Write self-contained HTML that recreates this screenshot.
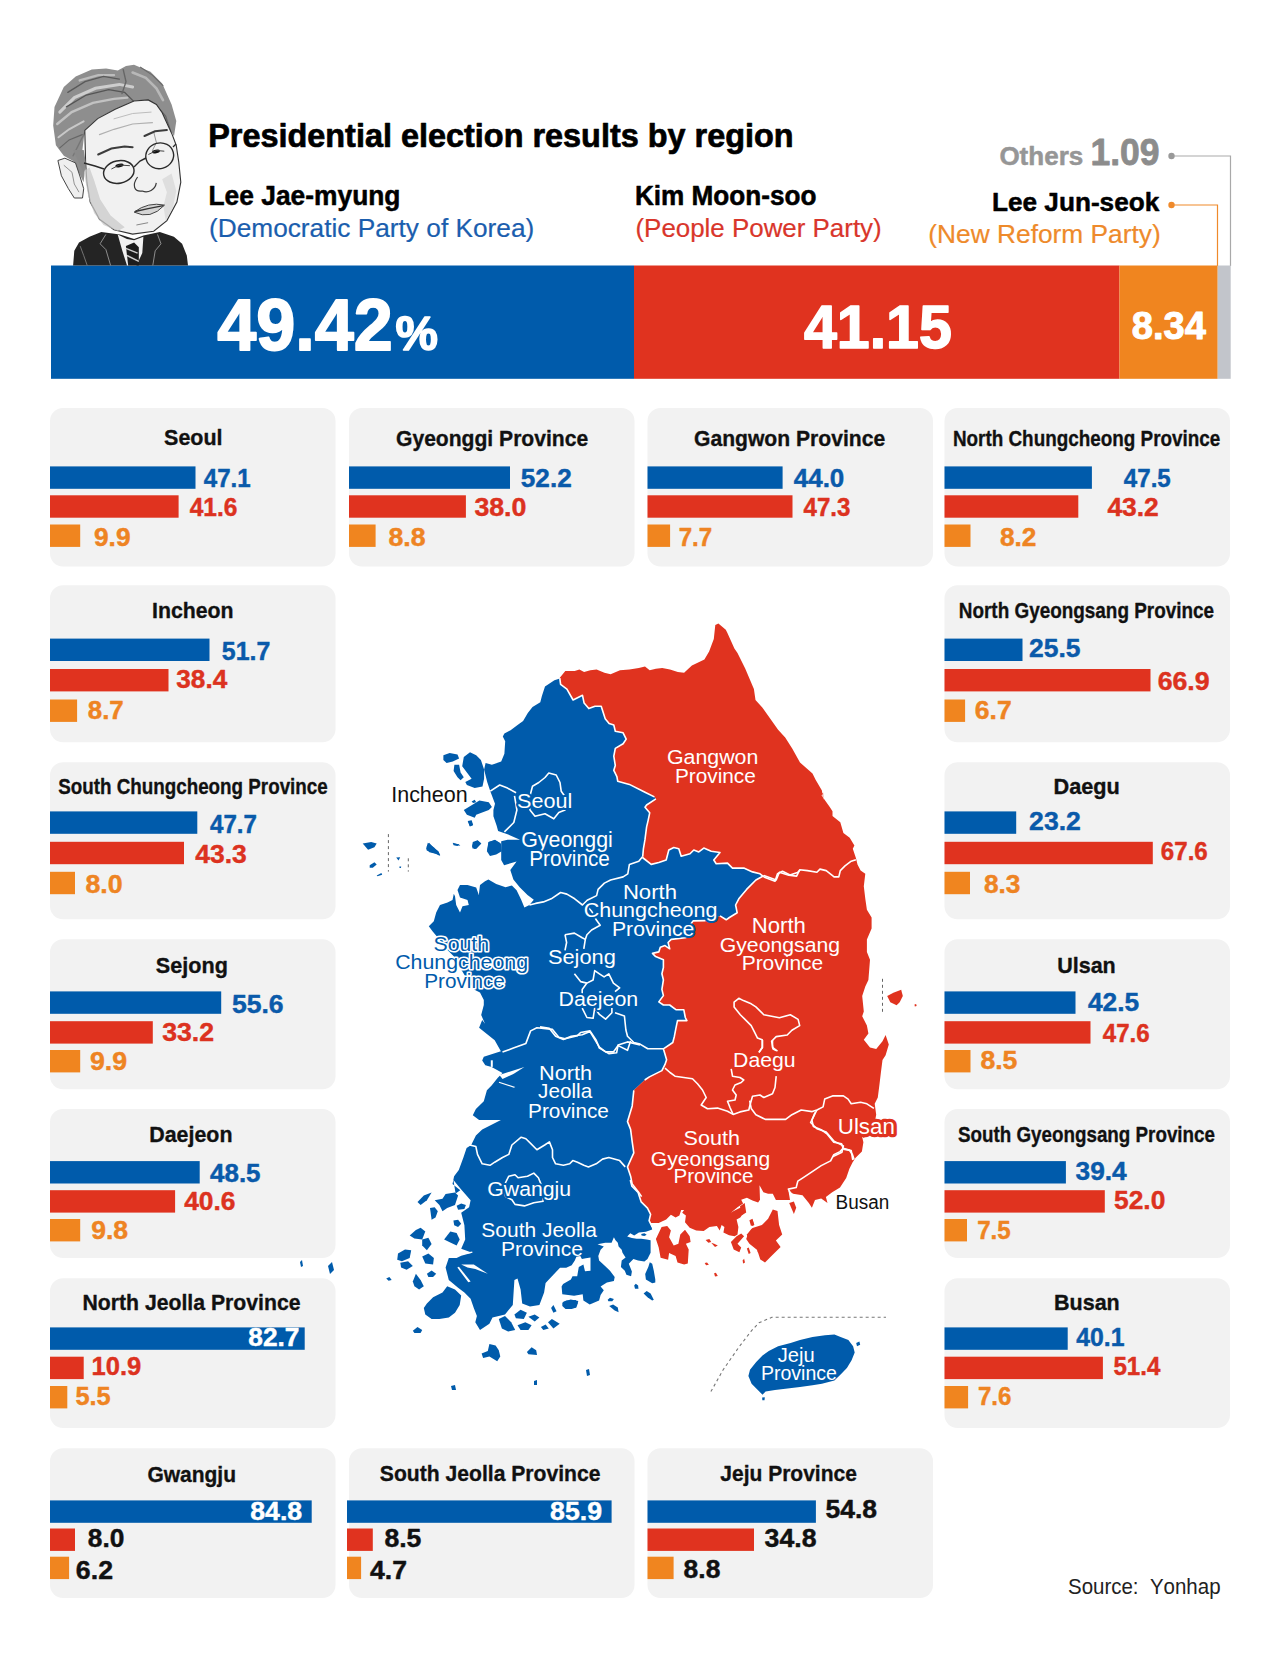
<!DOCTYPE html>
<html><head><meta charset="utf-8"><title>Presidential election results by region</title>
<style>
html,body{margin:0;padding:0;background:#fff;width:1280px;height:1664px;overflow:hidden}
svg{display:block}
text{font-family:"Liberation Sans",sans-serif;font-kerning:none;font-variant-ligatures:none}
</style></head><body>
<svg width="1280" height="1664" viewBox="0 0 1280 1664">
<rect width="1280" height="1664" fill="#fff"/>
<text transform="translate(208.18 146.65) scale(0.9655 1)" font-size="33.58" font-weight="bold" fill="#000" stroke="#000" stroke-width="0.70" stroke-linejoin="round">Presidential election results by region</text>
<text transform="translate(208.49 205.05) scale(0.9809 1)" font-size="26.89" font-weight="bold" fill="#000" stroke="#000" stroke-width="0.50" stroke-linejoin="round">Lee Jae-myung</text>
<text transform="translate(208.97 237.10) scale(1.0269 1)" font-size="25.58" font-weight="normal" fill="#1b5eae" stroke="#1b5eae" stroke-width="0.20" stroke-linejoin="round">(Democratic Party of Korea)</text>
<text transform="translate(634.90 204.75) scale(0.9731 1)" font-size="26.89" font-weight="bold" fill="#000" stroke="#000" stroke-width="0.50" stroke-linejoin="round">Kim Moon-soo</text>
<text transform="translate(635.49 236.70) scale(1.0131 1)" font-size="25.58" font-weight="normal" fill="#d9362b" stroke="#d9362b" stroke-width="0.20" stroke-linejoin="round">(People Power Party)</text>
<text transform="translate(999.38 164.75) scale(0.9844 1)" font-size="26.45" font-weight="bold" fill="#969696" stroke="#969696" stroke-width="0.50" stroke-linejoin="round">Others</text>
<text transform="translate(1090.46 164.60) scale(0.9512 1)" font-size="37.35" font-weight="bold" fill="#8c8c8c" stroke="#8c8c8c" stroke-width="0.80" stroke-linejoin="round">1.09</text>
<text transform="translate(992.00 211.05) scale(0.9849 1)" font-size="26.60" font-weight="bold" fill="#000" stroke="#000" stroke-width="0.50" stroke-linejoin="round">Lee Jun-seok</text>
<text transform="translate(928.27 242.60) scale(1.0062 1)" font-size="26.16" font-weight="normal" fill="#ee8a2b" stroke="#ee8a2b" stroke-width="0.20" stroke-linejoin="round">(New Reform Party)</text>
<path d="M1171.5 156 H1230.5 V266" fill="none" stroke="#a9a9a9" stroke-width="1.2"/>
<circle cx="1171.5" cy="156" r="3.2" fill="#999"/>
<path d="M1171.5 205 H1217.5 V266" fill="none" stroke="#ef8a2b" stroke-width="1.2"/>
<circle cx="1171.5" cy="205" r="3.2" fill="#ef8a2b"/>
<rect x="51" y="265.5" width="583" height="113.3" fill="#005bab"/>
<rect x="634" y="265.5" width="485.5" height="113.3" fill="#e0331f"/>
<rect x="1119.5" y="265.5" width="98.2" height="113.3" fill="#f0851f"/>
<rect x="1217.7" y="265.5" width="13" height="113.3" fill="#c2c5cb"/>
<text transform="translate(217.14 350.10) scale(0.9665 1)" font-size="72.67" font-weight="bold" fill="#fff" stroke="#fff" stroke-width="1.80" stroke-linejoin="round">49.42</text>
<text transform="translate(395.61 350.20) scale(0.9834 1)" font-size="48.55" font-weight="bold" fill="#fff" stroke="#fff" stroke-width="1.60" stroke-linejoin="round">%</text>
<text transform="translate(803.91 347.70) scale(0.9707 1)" font-size="60.90" font-weight="bold" fill="#fff" stroke="#fff" stroke-width="1.60" stroke-linejoin="round">41.15</text>
<text transform="translate(1131.79 338.90) scale(0.9863 1)" font-size="38.66" font-weight="bold" fill="#fff" stroke="#fff" stroke-width="1.00" stroke-linejoin="round">8.34</text>
<rect x="50.0" y="408.0" width="285.5" height="158.5" rx="13" fill="#f2f2f2"/>
<text transform="translate(164.06 445.02) scale(0.9444 1)" font-size="22.75" font-weight="bold" fill="#111" stroke="#111" stroke-width="0.35" stroke-linejoin="round">Seoul</text>
<rect x="50.0" y="466.4" width="145.5" height="22.4" fill="#005bab"/>
<rect x="50.0" y="495.3" width="128.6" height="22.4" fill="#e0331f"/>
<rect x="50.0" y="524.5" width="30.2" height="22.4" fill="#f0851f"/>
<text transform="translate(203.76 487.47) scale(0.9300 1)" font-size="25.94" font-weight="bold" fill="#0a5aaa" stroke="#0a5aaa" stroke-width="0.45" stroke-linejoin="round">47.1</text>
<text transform="translate(189.65 516.07) scale(0.9448 1)" font-size="25.94" font-weight="bold" fill="#dc3220" stroke="#dc3220" stroke-width="0.45" stroke-linejoin="round">41.6</text>
<text transform="translate(94.01 546.47) scale(1.0130 1)" font-size="25.94" font-weight="bold" fill="#ee8423" stroke="#ee8423" stroke-width="0.45" stroke-linejoin="round">9.9</text>
<rect x="349.0" y="408.0" width="285.5" height="158.5" rx="13" fill="#f2f2f2"/>
<text transform="translate(396.01 445.52) scale(0.9273 1)" font-size="22.75" font-weight="bold" fill="#111" stroke="#111" stroke-width="0.35" stroke-linejoin="round">Gyeonggi Province</text>
<rect x="349.0" y="466.4" width="161.0" height="22.4" fill="#005bab"/>
<rect x="349.0" y="495.3" width="116.9" height="22.4" fill="#e0331f"/>
<rect x="349.0" y="524.5" width="26.6" height="22.4" fill="#f0851f"/>
<text transform="translate(520.82 487.47) scale(1.0080 1)" font-size="25.94" font-weight="bold" fill="#0a5aaa" stroke="#0a5aaa" stroke-width="0.45" stroke-linejoin="round">52.2</text>
<text transform="translate(474.41 516.07) scale(1.0300 1)" font-size="25.94" font-weight="bold" fill="#dc3220" stroke="#dc3220" stroke-width="0.45" stroke-linejoin="round">38.0</text>
<text transform="translate(388.38 546.47) scale(1.0292 1)" font-size="25.94" font-weight="bold" fill="#ee8423" stroke="#ee8423" stroke-width="0.45" stroke-linejoin="round">8.8</text>
<rect x="647.5" y="408.0" width="285.5" height="158.5" rx="13" fill="#f2f2f2"/>
<text transform="translate(694.01 445.52) scale(0.9277 1)" font-size="22.75" font-weight="bold" fill="#111" stroke="#111" stroke-width="0.35" stroke-linejoin="round">Gangwon Province</text>
<rect x="647.5" y="466.4" width="135.1" height="22.4" fill="#005bab"/>
<rect x="647.5" y="495.3" width="145.0" height="22.4" fill="#e0331f"/>
<rect x="647.5" y="524.5" width="22.6" height="22.4" fill="#f0851f"/>
<text transform="translate(793.73 487.47) scale(1.0023 1)" font-size="25.94" font-weight="bold" fill="#0a5aaa" stroke="#0a5aaa" stroke-width="0.45" stroke-linejoin="round">44.0</text>
<text transform="translate(803.56 516.07) scale(0.9300 1)" font-size="25.94" font-weight="bold" fill="#dc3220" stroke="#dc3220" stroke-width="0.45" stroke-linejoin="round">47.3</text>
<text transform="translate(678.69 546.47) scale(0.9300 1)" font-size="25.94" font-weight="bold" fill="#ee8423" stroke="#ee8423" stroke-width="0.45" stroke-linejoin="round">7.7</text>
<rect x="944.5" y="408.0" width="285.5" height="158.5" rx="13" fill="#f2f2f2"/>
<text transform="translate(952.91 445.52) scale(0.8303 1)" font-size="22.75" font-weight="bold" fill="#111" stroke="#111" stroke-width="0.35" stroke-linejoin="round">North Chungcheong Province</text>
<rect x="944.5" y="466.4" width="147.4" height="22.4" fill="#005bab"/>
<rect x="944.5" y="495.3" width="133.8" height="22.4" fill="#e0331f"/>
<rect x="944.5" y="524.5" width="26.0" height="22.4" fill="#f0851f"/>
<text transform="translate(1123.86 487.47) scale(0.9300 1)" font-size="25.94" font-weight="bold" fill="#0a5aaa" stroke="#0a5aaa" stroke-width="0.45" stroke-linejoin="round">47.5</text>
<text transform="translate(1107.43 516.07) scale(1.0180 1)" font-size="25.94" font-weight="bold" fill="#dc3220" stroke="#dc3220" stroke-width="0.45" stroke-linejoin="round">43.2</text>
<text transform="translate(999.89 546.47) scale(1.0130 1)" font-size="25.94" font-weight="bold" fill="#ee8423" stroke="#ee8423" stroke-width="0.45" stroke-linejoin="round">8.2</text>
<rect x="50.0" y="585.2" width="285.5" height="157.0" rx="13" fill="#f2f2f2"/>
<text transform="translate(152.05 617.83) scale(0.9357 1)" font-size="22.75" font-weight="bold" fill="#111" stroke="#111" stroke-width="0.35" stroke-linejoin="round">Incheon</text>
<rect x="50.0" y="638.6" width="159.5" height="22.4" fill="#005bab"/>
<rect x="50.0" y="669.0" width="118.5" height="22.4" fill="#e0331f"/>
<rect x="50.0" y="699.5" width="27.1" height="22.4" fill="#f0851f"/>
<text transform="translate(221.86 660.07) scale(0.9607 1)" font-size="25.94" font-weight="bold" fill="#0a5aaa" stroke="#0a5aaa" stroke-width="0.45" stroke-linejoin="round">51.7</text>
<text transform="translate(176.32 688.37) scale(1.0078 1)" font-size="25.94" font-weight="bold" fill="#dc3220" stroke="#dc3220" stroke-width="0.45" stroke-linejoin="round">38.4</text>
<text transform="translate(87.81 718.77) scale(0.9955 1)" font-size="25.94" font-weight="bold" fill="#ee8423" stroke="#ee8423" stroke-width="0.45" stroke-linejoin="round">8.7</text>
<rect x="944.5" y="585.2" width="285.5" height="157.0" rx="13" fill="#f2f2f2"/>
<text transform="translate(958.81 617.83) scale(0.8314 1)" font-size="22.75" font-weight="bold" fill="#111" stroke="#111" stroke-width="0.35" stroke-linejoin="round">North Gyeongsang Province</text>
<rect x="944.5" y="638.6" width="78.0" height="22.4" fill="#005bab"/>
<rect x="944.5" y="669.0" width="206.0" height="22.4" fill="#e0331f"/>
<rect x="944.5" y="699.5" width="20.6" height="22.4" fill="#f0851f"/>
<text transform="translate(1029.11 657.37) scale(1.0200 1)" font-size="25.94" font-weight="bold" fill="#0a5aaa" stroke="#0a5aaa" stroke-width="0.45" stroke-linejoin="round">25.5</text>
<text transform="translate(1157.65 690.17) scale(1.0300 1)" font-size="25.94" font-weight="bold" fill="#dc3220" stroke="#dc3220" stroke-width="0.45" stroke-linejoin="round">66.9</text>
<text transform="translate(974.85 718.77) scale(1.0228 1)" font-size="25.94" font-weight="bold" fill="#ee8423" stroke="#ee8423" stroke-width="0.45" stroke-linejoin="round">6.7</text>
<rect x="50.0" y="762.2" width="285.5" height="157.0" rx="13" fill="#f2f2f2"/>
<text transform="translate(58.23 794.33) scale(0.8270 1)" font-size="22.75" font-weight="bold" fill="#111" stroke="#111" stroke-width="0.35" stroke-linejoin="round">South Chungcheong Province</text>
<rect x="50.0" y="811.4" width="147.3" height="22.4" fill="#005bab"/>
<rect x="50.0" y="841.8" width="134.0" height="22.4" fill="#e0331f"/>
<rect x="50.0" y="871.8" width="25.0" height="22.4" fill="#f0851f"/>
<text transform="translate(210.06 833.27) scale(0.9300 1)" font-size="25.94" font-weight="bold" fill="#0a5aaa" stroke="#0a5aaa" stroke-width="0.45" stroke-linejoin="round">47.7</text>
<text transform="translate(195.32 863.07) scale(1.0200 1)" font-size="25.94" font-weight="bold" fill="#dc3220" stroke="#dc3220" stroke-width="0.45" stroke-linejoin="round">43.3</text>
<text transform="translate(85.38 892.97) scale(1.0300 1)" font-size="25.94" font-weight="bold" fill="#ee8423" stroke="#ee8423" stroke-width="0.45" stroke-linejoin="round">8.0</text>
<rect x="944.5" y="762.2" width="285.5" height="157.0" rx="13" fill="#f2f2f2"/>
<text transform="translate(1053.52 793.83) scale(0.9542 1)" font-size="22.75" font-weight="bold" fill="#111" stroke="#111" stroke-width="0.35" stroke-linejoin="round">Daegu</text>
<rect x="944.5" y="811.4" width="71.7" height="22.4" fill="#005bab"/>
<rect x="944.5" y="841.8" width="208.3" height="22.4" fill="#e0331f"/>
<rect x="944.5" y="871.8" width="25.5" height="22.4" fill="#f0851f"/>
<text transform="translate(1029.10 829.77) scale(1.0266 1)" font-size="25.94" font-weight="bold" fill="#0a5aaa" stroke="#0a5aaa" stroke-width="0.45" stroke-linejoin="round">23.2</text>
<text transform="translate(1160.84 860.17) scale(0.9300 1)" font-size="25.94" font-weight="bold" fill="#dc3220" stroke="#dc3220" stroke-width="0.45" stroke-linejoin="round">67.6</text>
<text transform="translate(983.89 893.07) scale(1.0129 1)" font-size="25.94" font-weight="bold" fill="#ee8423" stroke="#ee8423" stroke-width="0.45" stroke-linejoin="round">8.3</text>
<rect x="50.0" y="939.2" width="285.5" height="150.0" rx="13" fill="#f2f2f2"/>
<text transform="translate(155.85 972.53) scale(0.9498 1)" font-size="22.75" font-weight="bold" fill="#111" stroke="#111" stroke-width="0.35" stroke-linejoin="round">Sejong</text>
<rect x="50.0" y="991.4" width="171.2" height="22.4" fill="#005bab"/>
<rect x="50.0" y="1021.2" width="102.8" height="22.4" fill="#e0331f"/>
<rect x="50.0" y="1050.0" width="30.2" height="22.4" fill="#f0851f"/>
<text transform="translate(231.91 1012.57) scale(1.0244 1)" font-size="25.94" font-weight="bold" fill="#0a5aaa" stroke="#0a5aaa" stroke-width="0.45" stroke-linejoin="round">55.6</text>
<text transform="translate(162.21 1040.67) scale(1.0284 1)" font-size="25.94" font-weight="bold" fill="#dc3220" stroke="#dc3220" stroke-width="0.45" stroke-linejoin="round">33.2</text>
<text transform="translate(90.00 1069.58) scale(1.0300 1)" font-size="25.94" font-weight="bold" fill="#ee8423" stroke="#ee8423" stroke-width="0.45" stroke-linejoin="round">9.9</text>
<rect x="944.5" y="939.2" width="285.5" height="150.0" rx="13" fill="#f2f2f2"/>
<text transform="translate(1057.18 972.53) scale(0.9456 1)" font-size="22.75" font-weight="bold" fill="#111" stroke="#111" stroke-width="0.35" stroke-linejoin="round">Ulsan</text>
<rect x="944.5" y="991.4" width="131.0" height="22.4" fill="#005bab"/>
<rect x="944.5" y="1021.2" width="146.0" height="22.4" fill="#e0331f"/>
<rect x="944.5" y="1050.0" width="26.0" height="22.4" fill="#f0851f"/>
<text transform="translate(1087.93 1010.97) scale(1.0156 1)" font-size="25.94" font-weight="bold" fill="#0a5aaa" stroke="#0a5aaa" stroke-width="0.45" stroke-linejoin="round">42.5</text>
<text transform="translate(1102.76 1042.38) scale(0.9300 1)" font-size="25.94" font-weight="bold" fill="#dc3220" stroke="#dc3220" stroke-width="0.45" stroke-linejoin="round">47.6</text>
<text transform="translate(980.38 1068.88) scale(1.0269 1)" font-size="25.94" font-weight="bold" fill="#ee8423" stroke="#ee8423" stroke-width="0.45" stroke-linejoin="round">8.5</text>
<rect x="50.0" y="1108.9" width="285.5" height="149.2" rx="13" fill="#f2f2f2"/>
<text transform="translate(149.24 1141.53) scale(0.9403 1)" font-size="22.75" font-weight="bold" fill="#111" stroke="#111" stroke-width="0.35" stroke-linejoin="round">Daejeon</text>
<rect x="50.0" y="1161.1" width="149.7" height="22.4" fill="#005bab"/>
<rect x="50.0" y="1190.2" width="125.1" height="22.4" fill="#e0331f"/>
<rect x="50.0" y="1219.0" width="30.2" height="22.4" fill="#f0851f"/>
<text transform="translate(210.03 1181.58) scale(1.0014 1)" font-size="25.94" font-weight="bold" fill="#0a5aaa" stroke="#0a5aaa" stroke-width="0.45" stroke-linejoin="round">48.5</text>
<text transform="translate(184.23 1209.67) scale(1.0159 1)" font-size="25.94" font-weight="bold" fill="#dc3220" stroke="#dc3220" stroke-width="0.45" stroke-linejoin="round">40.6</text>
<text transform="translate(91.21 1239.48) scale(1.0227 1)" font-size="25.94" font-weight="bold" fill="#ee8423" stroke="#ee8423" stroke-width="0.45" stroke-linejoin="round">9.8</text>
<rect x="944.5" y="1108.9" width="285.5" height="149.2" rx="13" fill="#f2f2f2"/>
<text transform="translate(957.93 1141.53) scale(0.8273 1)" font-size="22.75" font-weight="bold" fill="#111" stroke="#111" stroke-width="0.35" stroke-linejoin="round">South Gyeongsang Province</text>
<rect x="944.5" y="1161.1" width="121.4" height="22.4" fill="#005bab"/>
<rect x="944.5" y="1190.2" width="160.3" height="22.4" fill="#e0331f"/>
<rect x="944.5" y="1219.0" width="22.5" height="22.4" fill="#f0851f"/>
<text transform="translate(1075.52 1180.38) scale(1.0138 1)" font-size="25.94" font-weight="bold" fill="#0a5aaa" stroke="#0a5aaa" stroke-width="0.45" stroke-linejoin="round">39.4</text>
<text transform="translate(1114.01 1209.08) scale(1.0168 1)" font-size="25.94" font-weight="bold" fill="#dc3220" stroke="#dc3220" stroke-width="0.45" stroke-linejoin="round">52.0</text>
<text transform="translate(977.19 1238.58) scale(0.9300 1)" font-size="25.94" font-weight="bold" fill="#ee8423" stroke="#ee8423" stroke-width="0.45" stroke-linejoin="round">7.5</text>
<rect x="50.0" y="1278.2" width="285.5" height="149.9" rx="13" fill="#f2f2f2"/>
<text transform="translate(82.46 1310.33) scale(0.9326 1)" font-size="22.75" font-weight="bold" fill="#111" stroke="#111" stroke-width="0.35" stroke-linejoin="round">North Jeolla Province</text>
<rect x="50.0" y="1327.4" width="254.7" height="22.4" fill="#005bab"/>
<rect x="50.0" y="1356.7" width="33.7" height="22.4" fill="#e0331f"/>
<rect x="50.0" y="1386.0" width="17.3" height="22.4" fill="#f0851f"/>
<text transform="translate(248.29 1346.17) scale(1.0148 1)" font-size="25.94" font-weight="bold" fill="#fff" stroke="#fff" stroke-width="0.45" stroke-linejoin="round">82.7</text>
<text transform="translate(91.62 1375.08) scale(0.9844 1)" font-size="25.94" font-weight="bold" fill="#dc3220" stroke="#dc3220" stroke-width="0.45" stroke-linejoin="round">10.9</text>
<text transform="translate(75.45 1405.48) scale(0.9769 1)" font-size="25.94" font-weight="bold" fill="#ee8423" stroke="#ee8423" stroke-width="0.45" stroke-linejoin="round">5.5</text>
<rect x="944.5" y="1278.2" width="285.5" height="149.9" rx="13" fill="#f2f2f2"/>
<text transform="translate(1054.04 1310.33) scale(0.9454 1)" font-size="22.75" font-weight="bold" fill="#111" stroke="#111" stroke-width="0.35" stroke-linejoin="round">Busan</text>
<rect x="944.5" y="1327.4" width="123.2" height="22.4" fill="#005bab"/>
<rect x="944.5" y="1356.7" width="158.4" height="22.4" fill="#e0331f"/>
<rect x="944.5" y="1386.0" width="23.6" height="22.4" fill="#f0851f"/>
<text transform="translate(1076.25 1346.17) scale(0.9548 1)" font-size="25.94" font-weight="bold" fill="#0a5aaa" stroke="#0a5aaa" stroke-width="0.45" stroke-linejoin="round">40.1</text>
<text transform="translate(1113.38 1375.08) scale(0.9300 1)" font-size="25.94" font-weight="bold" fill="#dc3220" stroke="#dc3220" stroke-width="0.45" stroke-linejoin="round">51.4</text>
<text transform="translate(977.89 1405.48) scale(0.9300 1)" font-size="25.94" font-weight="bold" fill="#ee8423" stroke="#ee8423" stroke-width="0.45" stroke-linejoin="round">7.6</text>
<rect x="50.0" y="1448.2" width="285.5" height="149.9" rx="13" fill="#f2f2f2"/>
<text transform="translate(147.41 1481.53) scale(0.9224 1)" font-size="22.75" font-weight="bold" fill="#111" stroke="#111" stroke-width="0.35" stroke-linejoin="round">Gwangju</text>
<rect x="50.0" y="1500.4" width="261.7" height="22.4" fill="#005bab"/>
<rect x="50.0" y="1528.5" width="25.0" height="22.4" fill="#e0331f"/>
<rect x="50.0" y="1556.7" width="19.1" height="22.4" fill="#f0851f"/>
<text transform="translate(250.19 1519.98) scale(1.0300 1)" font-size="25.94" font-weight="bold" fill="#fff" stroke="#fff" stroke-width="0.45" stroke-linejoin="round">84.8</text>
<text transform="translate(87.79 1547.38) scale(1.0138 1)" font-size="25.94" font-weight="bold" fill="#111" stroke="#111" stroke-width="0.45" stroke-linejoin="round">8.0</text>
<text transform="translate(75.85 1578.58) scale(1.0300 1)" font-size="25.94" font-weight="bold" fill="#111" stroke="#111" stroke-width="0.45" stroke-linejoin="round">6.2</text>
<rect x="349.0" y="1448.2" width="285.5" height="149.9" rx="13" fill="#f2f2f2"/>
<text transform="translate(379.87 1480.83) scale(0.9286 1)" font-size="22.75" font-weight="bold" fill="#111" stroke="#111" stroke-width="0.35" stroke-linejoin="round">South Jeolla Province</text>
<rect x="347.0" y="1500.4" width="264.6" height="22.4" fill="#005bab"/>
<rect x="347.0" y="1528.5" width="25.8" height="22.4" fill="#e0331f"/>
<rect x="347.0" y="1556.7" width="14.1" height="22.4" fill="#f0851f"/>
<text transform="translate(550.08 1519.98) scale(1.0296 1)" font-size="25.94" font-weight="bold" fill="#fff" stroke="#fff" stroke-width="0.45" stroke-linejoin="round">85.9</text>
<text transform="translate(384.38 1547.38) scale(1.0269 1)" font-size="25.94" font-weight="bold" fill="#111" stroke="#111" stroke-width="0.45" stroke-linejoin="round">8.5</text>
<text transform="translate(370.02 1578.58) scale(1.0265 1)" font-size="25.94" font-weight="bold" fill="#111" stroke="#111" stroke-width="0.45" stroke-linejoin="round">4.7</text>
<rect x="647.5" y="1448.2" width="285.5" height="149.9" rx="13" fill="#f2f2f2"/>
<text transform="translate(720.36 1480.83) scale(0.9234 1)" font-size="22.75" font-weight="bold" fill="#111" stroke="#111" stroke-width="0.35" stroke-linejoin="round">Jeju Province</text>
<rect x="647.5" y="1500.4" width="168.4" height="22.4" fill="#005bab"/>
<rect x="647.5" y="1528.5" width="106.5" height="22.4" fill="#e0331f"/>
<rect x="647.5" y="1556.7" width="26.1" height="22.4" fill="#f0851f"/>
<text transform="translate(825.41 1518.08) scale(1.0215 1)" font-size="25.94" font-weight="bold" fill="#111" stroke="#111" stroke-width="0.45" stroke-linejoin="round">54.8</text>
<text transform="translate(764.61 1547.38) scale(1.0274 1)" font-size="25.94" font-weight="bold" fill="#111" stroke="#111" stroke-width="0.45" stroke-linejoin="round">34.8</text>
<text transform="translate(683.58 1577.88) scale(1.0205 1)" font-size="25.94" font-weight="bold" fill="#111" stroke="#111" stroke-width="0.45" stroke-linejoin="round">8.8</text>
<text transform="translate(1067.97 1593.60) scale(0.9271 1)" font-size="22.09" font-weight="normal" fill="#222" style="white-space:pre">Source:  Yonhap</text>
<g id="map">
<polygon points="559.1,678.8 554.4,680.3 545.0,686.6 541.9,695.9 540.3,702.2 532.5,706.9 527.8,713.1 523.1,720.9 516.9,725.6 510.6,730.3 504.4,733.4 502.8,736.6 505.2,741.2 504.4,753.8 501.2,761.6 491.9,764.7 485.6,763.1 484.1,769.4 487.2,781.9 490.3,791.2 495.0,803.8 493.4,810.0 493.4,816.2 496.6,825.6 498.1,831.1 507.5,834.2 520.0,839.7 507.5,839.7 501.2,841.2 501.2,860.0 504.1,865.3 516.6,861.4 510.3,870.0 513.4,879.4 519.7,887.2 527.5,895.0 533.8,899.7 529.4,905.0 524.4,907.5 521.2,899.7 516.6,890.3 511.9,885.6 505.6,887.2 496.2,884.1 488.4,879.4 480.6,877.8 488.4,879.4 485.0,881.2 480.0,885.0 478.8,895.0 476.2,887.5 467.5,885.0 460.0,885.0 457.5,890.0 460.0,897.5 467.5,900.0 468.8,905.0 462.5,906.2 460.0,912.5 456.2,905.0 455.0,896.2 453.8,893.8 452.5,900.0 447.5,902.5 440.0,905.0 436.2,912.5 433.8,921.2 428.8,926.2 432.5,931.2 438.8,938.8 447.5,950.0 455.0,957.5 460.0,967.5 467.5,980.0 475.0,990.0 480.0,992.5 483.8,1000.0 483.8,1005.0 481.2,1015.0 485.0,1023.8 482.2,1020.0 479.1,1027.8 486.9,1034.1 494.7,1040.3 500.9,1051.2 483.8,1056.7 482.2,1060.6 485.3,1065.3 491.6,1066.9 502.5,1073.1 497.8,1077.8 491.6,1085.6 486.9,1090.3 483.8,1101.2 475.9,1109.1 472.8,1115.3 479.1,1120.0 500.9,1120.0 491.6,1124.7 482.2,1129.4 475.9,1135.6 471.2,1145.0 466.6,1148.1 463.4,1157.5 458.8,1170.0 454.1,1176.2 452.5,1184.1 460.3,1190.3 455.6,1193.4 453.4,1180.0 461.2,1189.4 470.6,1200.3 469.1,1207.3 461.2,1212.8 464.4,1225.3 465.2,1239.4 461.2,1248.8 472.2,1252.7 461.2,1255.8 456.6,1258.1 448.8,1258.1 445.6,1267.5 448.8,1280.0 458.1,1287.8 464.4,1292.5 470.6,1298.8 473.8,1308.1 476.9,1315.9 475.3,1322.2 480.0,1330.0 489.4,1323.8 492.5,1317.5 505.0,1314.4 512.8,1305.0 514.4,1280.0 517.5,1278.4 520.6,1289.4 522.2,1303.4 530.0,1306.6 539.4,1305.0 544.1,1292.5 545.6,1283.1 560.0,1267.7 566.2,1267.7 571.7,1265.3 574.8,1260.6 576.4,1256.7 580.3,1255.9 581.9,1259.1 585.8,1258.3 590.5,1257.5 590.5,1270.8 585.0,1271.2 583.4,1264.5 578.8,1266.9 577.2,1276.2 572.5,1276.2 570.9,1279.4 563.1,1284.1 561.6,1286.4 562.3,1294.2 574.1,1295.8 582.7,1294.2 583.4,1300.5 589.7,1304.4 599.1,1300.5 600.6,1295.0 603.8,1290.3 600.6,1286.4 606.9,1282.5 613.9,1280.9 614.7,1277.0 610.0,1270.8 606.1,1266.9 599.1,1260.6 598.3,1255.9 600.6,1249.7 603.8,1246.6 597.5,1244.2 605.3,1242.7 611.6,1242.7 613.9,1237.2 615.5,1240.3 617.8,1242.7 618.6,1246.6 621.7,1249.7 622.5,1252.8 625.6,1257.5 621.7,1260.6 620.9,1266.9 624.8,1270.8 626.4,1274.7 631.1,1276.2 631.9,1271.6 628.8,1263.8 633.4,1259.1 638.1,1260.6 644.4,1261.4 647.5,1259.1 650.6,1252.8 650.6,1240.3 646.7,1239.5 641.2,1238.8 636.6,1238.8 631.9,1238.0 627.2,1236.4 630.3,1233.3 634.2,1235.6 638.9,1232.5 645.9,1231.7 652.2,1229.4 649.8,1220.0 650.6,1214.4 647.5,1208.1 641.2,1201.9 638.1,1192.5 631.9,1186.2 630.3,1180.0 641.6,1196.6 638.4,1191.9 632.2,1184.1 630.6,1176.2 627.5,1166.9 633.8,1152.8 632.2,1141.9 630.6,1129.4 627.5,1121.6 632.2,1105.9 633.8,1090.3 644.7,1080.0 649.4,1076.9 661.9,1070.6 665.0,1064.4 666.6,1059.7 663.4,1048.8 672.8,1042.5 674.4,1036.2 675.9,1028.4 677.5,1020.6 686.9,1020.6 685.3,1017.5 683.8,1009.7 675.9,1009.7 669.7,1005.0 663.4,1005.0 658.8,1001.9 663.4,995.6 661.9,989.4 663.4,980.0 661.9,973.8 663.4,967.5 663.4,959.7 655.6,956.6 652.5,953.4 658.8,951.9 660.3,947.2 665.0,945.6 669.7,948.8 668.1,942.5 671.2,939.4 685.3,937.8 693.1,934.7 688.4,926.9 693.1,920.9 705.6,920.6 720.0,915.9 726.2,919.8 729.4,917.5 737.2,912.8 735.6,905.0 738.8,898.8 746.6,889.4 755.9,880.0 763.8,875.6 763.8,876.9 760.0,873.8 752.5,871.9 743.8,868.1 732.5,868.1 727.5,863.1 716.2,863.8 713.8,860.0 720.0,852.5 711.2,851.2 703.8,848.1 698.8,851.9 693.8,850.0 690.0,853.8 681.2,856.2 678.8,848.8 673.8,847.5 668.8,850.0 666.2,860.0 658.8,862.5 651.2,864.4 642.5,857.5 642.7,856.6 643.4,848.8 645.0,839.4 646.6,826.9 648.1,820.6 649.7,812.8 645.0,807.3 646.6,805.0 655.9,798.8 654.4,796.9 645.0,792.2 629.4,784.4 617.7,781.2 616.9,776.6 613.8,770.3 615.3,765.6 613.8,756.2 615.3,748.4 623.1,743.8 626.2,739.1 623.1,732.8 615.3,731.2 613.8,725.0 609.1,723.4 605.2,718.8 601.2,706.2 595.0,706.2 588.8,708.6 584.1,703.1 582.5,695.3 573.1,700.0 566.9,689.1 560.6,684.4 559.8,678.1" fill="#005bab"/>
<polygon points="559.8,677.8 565.3,671.1 574.7,671.1 579.4,669.5 584.1,671.9 590.3,670.3 596.6,669.5 604.4,672.7 610.6,674.2 620.0,670.3 629.4,669.5 638.8,668.0 645.0,666.4 649.7,670.3 655.9,668.8 662.2,668.0 670.0,669.5 677.8,671.9 684.1,672.7 691.9,665.6 704.4,659.4 709.1,651.6 713.8,639.1 715.3,625.0 718.4,623.4 725.8,629.7 727.3,632.8 734.4,648.4 737.5,653.1 745.3,668.8 753.9,689.1 755.5,700.0 762.5,707.8 770.3,718.8 778.1,729.7 785.2,737.5 792.2,748.4 800.0,762.5 812.5,773.4 815.6,779.7 821.9,790.6 823.4,800.0 823.1,792.5 821.6,795.6 829.4,806.6 832.5,811.2 832.5,815.9 840.3,822.2 843.4,833.1 849.7,837.8 854.4,845.6 852.8,848.8 855.9,858.1 857.5,864.4 860.6,870.6 865.3,873.8 863.8,886.2 865.3,898.8 866.9,909.7 871.6,917.5 871.6,928.4 866.9,939.4 866.9,951.9 870.0,959.7 868.4,980.0 868.4,980.0 865.3,986.6 862.2,995.9 863.8,1011.6 862.2,1016.2 866.9,1025.6 868.4,1033.4 863.8,1039.7 870.0,1047.5 876.2,1049.1 882.5,1041.2 885.6,1035.0 888.8,1044.4 885.6,1055.3 882.5,1060.0 880.9,1072.5 879.4,1085.0 877.8,1097.5 874.7,1103.8 876.2,1114.7 874.7,1122.5 870.0,1131.9 863.8,1138.1 861.9,1135.9 863.4,1142.2 861.9,1151.6 855.6,1157.8 852.5,1162.5 849.4,1168.8 846.2,1178.1 840.0,1187.5 832.2,1192.2 825.9,1196.9 827.5,1203.1 821.2,1198.4 815.0,1200.0 811.9,1207.8 808.8,1203.1 802.5,1195.3 793.1,1193.8 788.4,1190.6 790.0,1200.0 775.9,1200.0 772.8,1193.8 768.1,1193.8 763.4,1192.2 759.5,1185.2 760.0,1200.0 760.0,1199.7 758.1,1202.5 752.5,1200.6 746.9,1197.8 741.2,1199.7 743.1,1203.4 737.5,1207.2 730.9,1212.8 733.7,1210.9 741.2,1207.2 744.1,1211.9 740.3,1217.5 736.6,1219.4 738.4,1226.9 737.5,1234.4 734.7,1236.2 729.1,1235.3 723.4,1232.5 724.4,1226.9 721.6,1225.0 719.7,1230.6 716.9,1225.9 709.4,1226.9 703.7,1231.1 696.2,1230.6 689.7,1227.8 685.0,1222.2 685.9,1215.6 682.2,1212.8 684.1,1210.0 681.2,1210.0 679.4,1215.6 675.6,1217.5 670.9,1214.7 666.2,1219.4 658.7,1223.1 650.3,1223.1 652.2,1226.9 649.1,1220.6 650.6,1214.4 647.5,1208.1 641.2,1201.9 638.1,1192.5 631.9,1186.2 630.3,1180.0 641.6,1196.6 638.4,1191.9 632.2,1184.1 630.6,1176.2 627.5,1166.9 633.8,1152.8 632.2,1141.9 630.6,1129.4 627.5,1121.6 632.2,1105.9 633.8,1090.3 644.7,1080.0 649.4,1076.9 661.9,1070.6 665.0,1064.4 666.6,1059.7 663.4,1048.8 672.8,1042.5 674.4,1036.2 675.9,1028.4 677.5,1020.6 686.9,1020.6 685.3,1017.5 683.8,1009.7 675.9,1009.7 669.7,1005.0 663.4,1005.0 658.8,1001.9 663.4,995.6 661.9,989.4 663.4,980.0 661.9,973.8 663.4,967.5 663.4,959.7 655.6,956.6 652.5,953.4 658.8,951.9 660.3,947.2 665.0,945.6 669.7,948.8 668.1,942.5 671.2,939.4 685.3,937.8 693.1,934.7 688.4,926.9 693.1,920.9 705.6,920.6 720.0,915.9 726.2,919.8 729.4,917.5 737.2,912.8 735.6,905.0 738.8,898.8 746.6,889.4 755.9,880.0 763.8,875.6 763.8,876.9 760.0,873.8 752.5,871.9 743.8,868.1 732.5,868.1 727.5,863.1 716.2,863.8 713.8,860.0 720.0,852.5 711.2,851.2 703.8,848.1 698.8,851.9 693.8,850.0 690.0,853.8 681.2,856.2 678.8,848.8 673.8,847.5 668.8,850.0 666.2,860.0 658.8,862.5 651.2,864.4 642.5,857.5 642.7,856.6 643.4,848.8 645.0,839.4 646.6,826.9 648.1,820.6 649.7,812.8 645.0,807.3 646.6,805.0 655.9,798.8 654.4,796.9 645.0,792.2 629.4,784.4 617.7,781.2 616.9,776.6 613.8,770.3 615.3,765.6 613.8,756.2 615.3,748.4 623.1,743.8 626.2,739.1 623.1,732.8 615.3,731.2 613.8,725.0 609.1,723.4 605.2,718.8 601.2,706.2 595.0,706.2 588.8,708.6 584.1,703.1 582.5,695.3 573.1,700.0 566.9,689.1 560.6,684.4 559.8,678.1" fill="#e0331f"/>
<polygon points="463.8,756.9 470.0,752.2 476.2,755.3 480.9,760.0 484.1,769.4 484.1,778.8 482.5,786.6 474.7,788.1 466.9,785.0 465.3,781.9 471.6,778.8 466.9,772.5 462.2,766.2" fill="#005bab"/>
<polygon points="443.4,755.3 449.7,753.0 457.5,754.5 459.1,758.4 452.8,761.6 446.6,763.1 443.4,760.0" fill="#005bab"/>
<polygon points="454.4,764.7 459.1,764.7 460.6,772.5 463.8,777.2 460.6,780.3 457.5,777.2 453.6,770.9" fill="#005bab"/>
<polygon points="463.8,810.0 471.6,805.3 479.4,800.6 488.8,802.2 491.9,806.9 488.8,810.0 476.2,814.7 474.7,817.8 466.9,814.7" fill="#005bab"/>
<polygon points="471.6,801.4 474.7,799.8 476.2,802.2 473.1,803.0" fill="#005bab"/>
<polygon points="467.7,820.9 471.6,820.2 473.1,824.8 470.0,826.4" fill="#005bab"/>
<polygon points="427.8,842.8 434.1,847.5 438.8,852.2 440.3,855.3 435.6,853.8 429.4,852.2 426.2,849.1" fill="#005bab"/>
<polygon points="452.8,842.8 459.1,844.4 457.5,845.9 453.6,845.2" fill="#005bab"/>
<polygon points="473.1,842.8 477.8,840.5 480.9,843.6 476.2,849.1 472.3,848.3" fill="#005bab"/>
<polygon points="488.8,842.0 495.0,839.7 499.7,842.8 500.5,850.6 493.4,852.2 487.2,850.6" fill="#005bab"/>
<polygon points="362.7,843.4 371.2,841.9 376.7,843.4 374.4,847.3 368.1,849.7" fill="#005bab"/>
<polygon points="369.7,865.3 374.4,862.2 376.7,864.5 372.8,867.7 369.7,867.7" fill="#005bab"/>
<polygon points="376.7,875.5 381.4,873.1 382.2,874.7 377.5,876.2" fill="#005bab"/>
<polygon points="396.2,857.5 400.2,857.2 398.6,860.6" fill="#005bab"/>
<polygon points="399.4,866.6 401.2,866.6 400.9,868.1 399.5,868.1" fill="#005bab"/>
<polygon points="429.1,842.7 433.8,848.1 438.4,851.2 440.0,855.9 435.3,853.6 426.7,850.5 426.7,846.6" fill="#005bab"/>
<polygon points="452.5,843.4 458.8,844.2 460.3,845.8 454.8,845.0" fill="#005bab"/>
<polygon points="472.8,841.9 477.5,840.3 481.4,843.4 477.5,847.3 474.4,848.9 472.0,846.6" fill="#005bab"/>
<polygon points="488.4,841.9 494.7,840.3 500.9,843.4 501.7,851.2 496.2,854.4 490.0,855.9 486.9,851.2" fill="#005bab"/>
<polygon points="468.1,821.6 471.2,820.8 472.8,825.5 469.7,826.2" fill="#005bab"/>
<polygon points="426.9,1303.4 433.1,1297.2 442.5,1292.5 447.2,1286.2 455.0,1289.4 461.2,1295.6 459.7,1305.0 455.0,1312.8 448.8,1317.5 439.4,1319.1 431.6,1319.1 425.3,1314.4 423.8,1308.1" fill="#005bab"/>
<polygon points="417.5,1201.9 423.8,1195.6 431.6,1192.5 426.9,1200.3 420.6,1205.0" fill="#005bab"/>
<polygon points="434.7,1200.3 442.5,1198.8 445.6,1194.1 455.0,1192.5 458.1,1195.6 455.0,1205.0 447.2,1208.1 442.5,1211.2 439.4,1205.0" fill="#005bab"/>
<polygon points="456.6,1205.8 461.2,1203.4 465.9,1205.0 464.4,1208.9 458.1,1209.7" fill="#005bab"/>
<polygon points="430.0,1208.1 434.7,1207.3 437.8,1211.2 435.5,1217.5 431.6,1219.8" fill="#005bab"/>
<polygon points="453.4,1220.6 458.1,1219.8 461.2,1223.8 458.1,1226.9 454.2,1225.3" fill="#005bab"/>
<polygon points="409.7,1235.5 415.9,1230.0 420.6,1227.7 425.3,1231.6 422.2,1239.4 414.4,1238.6" fill="#005bab"/>
<polygon points="422.2,1239.4 428.4,1237.8 431.6,1244.1 426.9,1250.3 422.2,1245.6" fill="#005bab"/>
<polygon points="444.1,1239.4 450.3,1231.6 456.6,1233.1 459.7,1239.4 456.6,1245.6 450.3,1242.5" fill="#005bab"/>
<polygon points="398.0,1253.4 405.0,1249.5 411.2,1250.3 409.7,1258.1 401.9,1261.2 397.2,1259.7" fill="#005bab"/>
<polygon points="400.3,1262.8 408.1,1261.2 412.8,1265.9 406.6,1269.8 401.1,1267.5" fill="#005bab"/>
<polygon points="422.2,1256.6 428.4,1253.4 433.9,1258.1 433.1,1264.4 425.3,1263.6" fill="#005bab"/>
<polygon points="426.9,1273.8 431.6,1270.6 436.2,1273.8 433.1,1276.9 428.4,1276.9" fill="#005bab"/>
<polygon points="412.8,1281.6 415.9,1273.8 420.6,1280.0 423.8,1286.2 419.1,1289.4 414.4,1286.2" fill="#005bab"/>
<polygon points="386.2,1278.4 389.4,1276.9 391.7,1280.0 388.6,1280.8" fill="#005bab"/>
<polygon points="412.8,1330.8 417.5,1326.9 422.2,1330.0 420.6,1333.1 414.4,1333.1" fill="#005bab"/>
<polygon points="498.8,1319.1 505.0,1315.9 511.2,1322.2 515.2,1330.0 508.1,1331.6 501.9,1328.4" fill="#005bab"/>
<polygon points="514.4,1314.4 520.6,1309.7 526.9,1312.8 523.8,1319.1 515.9,1318.3" fill="#005bab"/>
<polygon points="517.5,1325.3 525.3,1322.2 531.6,1325.3 528.4,1330.0 520.6,1330.0" fill="#005bab"/>
<polygon points="528.4,1316.7 534.7,1314.4 539.4,1317.5 534.7,1321.4" fill="#005bab"/>
<polygon points="540.9,1326.9 545.6,1324.5 548.8,1328.4 543.3,1330.0" fill="#005bab"/>
<polygon points="548.0,1322.2 551.9,1319.1 559.7,1323.8 553.4,1328.4" fill="#005bab"/>
<polygon points="551.1,1308.1 553.4,1305.0 556.6,1311.2 553.4,1312.8" fill="#005bab"/>
<polygon points="562.8,1301.9 570.6,1299.5 578.4,1301.1 575.3,1308.1 565.9,1306.6" fill="#005bab"/>
<polygon points="481.6,1353.4 487.8,1351.1 489.4,1344.1 495.6,1345.6 498.8,1350.3 500.3,1356.6 497.2,1361.2 489.4,1356.6 483.1,1358.1" fill="#005bab"/>
<polygon points="526.9,1351.9 531.6,1347.2 536.2,1350.3 537.0,1355.0 528.4,1354.2" fill="#005bab"/>
<polygon points="562.3,1302.8 566.2,1300.5 575.6,1300.1 578.0,1302.8 576.4,1307.5 571.7,1309.1 565.5,1309.1 562.3,1305.9" fill="#005bab"/>
<polygon points="607.7,1299.7 610.0,1297.7 613.9,1298.9 612.3,1301.2 608.4,1301.2" fill="#005bab"/>
<polygon points="609.2,1305.9 613.1,1304.4 617.8,1307.5 618.6,1312.2 614.7,1310.6" fill="#005bab"/>
<polygon points="634.2,1285.6 635.8,1283.7 638.1,1285.6 638.5,1288.8 635.0,1288.8" fill="#005bab"/>
<polygon points="643.6,1293.4 646.7,1291.1 650.6,1293.4 653.8,1299.7 652.2,1300.5 647.5,1297.3" fill="#005bab"/>
<polygon points="645.2,1273.9 648.3,1266.9 649.8,1262.2 652.2,1263.8 653.8,1270.8 655.3,1279.4 655.3,1282.5 652.2,1283.3 645.9,1279.4" fill="#005bab"/>
<polygon points="641.2,1234.1 644.4,1233.3 646.7,1234.8 644.4,1236.0 641.6,1235.6" fill="#005bab"/>
<polygon points="856.2,1343.1 859.4,1341.6 860.2,1344.7 857.0,1346.2" fill="#005bab"/>
<polygon points="762.2,1397.5 764.8,1397.2 764.5,1400.3 762.3,1400.3" fill="#005bab"/>
<polygon points="328.0,1266.0 332.0,1262.0 334.0,1270.0 330.0,1274.0" fill="#005bab"/>
<polygon points="451.0,1386.0 455.0,1385.0 456.0,1390.0 452.0,1390.0" fill="#005bab"/>
<polygon points="534.0,1381.0 537.0,1380.0 537.0,1385.0 534.0,1385.0" fill="#005bab"/>
<polygon points="586.0,1370.0 589.0,1369.0 590.0,1375.0 587.0,1376.0" fill="#005bab"/>
<polygon points="300.0,1262.0 302.0,1260.0 303.0,1266.0 301.0,1267.0" fill="#005bab"/>
<polygon points="750.0,1369.7 756.2,1361.9 762.5,1355.6 768.8,1350.9 778.1,1346.2 790.6,1343.1 800.0,1340.0 812.5,1336.9 825.0,1335.3 834.4,1334.5 840.6,1336.9 848.4,1340.0 853.1,1346.2 854.7,1352.5 851.6,1360.3 846.9,1368.1 840.6,1374.4 834.4,1380.6 821.9,1383.8 812.5,1385.3 800.0,1386.9 787.5,1388.4 775.0,1390.0 765.6,1391.6 762.5,1394.7 757.8,1390.0 751.6,1383.8 748.4,1375.9" fill="#005bab"/>
<polygon points="655.9,1239.1 661.6,1226.9 667.2,1225.9 670.9,1230.6 669.1,1237.2 673.7,1245.6 678.4,1243.7 680.3,1234.4 685.0,1229.7 689.7,1236.2 690.6,1241.9 685.9,1243.7 688.7,1249.4 687.8,1263.4 684.1,1264.4 677.5,1262.5 675.6,1255.9 669.1,1253.1 668.1,1259.7 660.6,1257.8 658.7,1247.5" fill="#e0331f"/>
<polygon points="705.6,1240.0 709.4,1239.1 711.2,1241.9 708.4,1242.8" fill="#e0331f"/>
<polygon points="711.2,1242.8 714.1,1243.7 717.8,1245.6 715.0,1247.0" fill="#e0331f"/>
<polygon points="704.7,1263.0 707.0,1262.5 708.9,1264.8 706.1,1265.3" fill="#e0331f"/>
<polygon points="714.1,1273.3 715.9,1272.8 717.8,1276.1 715.0,1276.6" fill="#e0331f"/>
<polygon points="730.9,1241.9 736.6,1236.2 741.2,1233.4 744.1,1236.2 737.5,1243.7 741.2,1247.5 739.4,1252.2 733.7,1249.4" fill="#e0331f"/>
<polygon points="746.9,1248.4 748.7,1247.5 750.6,1253.1 748.7,1254.1" fill="#e0331f"/>
<polygon points="742.7,1260.6 744.1,1258.7 745.0,1262.5 743.1,1263.4" fill="#e0331f"/>
<polygon points="746.9,1234.4 751.6,1228.7 760.0,1227.8 760.0,1240.0 752.5,1242.8 747.8,1240.0" fill="#e0331f"/>
<polygon points="750.6,1221.2 752.5,1219.4 754.4,1225.0 752.0,1225.9" fill="#e0331f"/>
<polygon points="757.2,1248.4 760.0,1247.5 760.0,1252.2 757.7,1252.2" fill="#e0331f"/>
<polygon points="747.8,1234.4 752.5,1228.1 761.9,1225.0 768.1,1218.8 772.8,1209.4 777.5,1210.9 779.1,1225.0 782.2,1234.4 775.9,1240.6 780.6,1246.9 771.2,1256.2 765.0,1262.5 760.3,1259.4 757.2,1250.0 749.4,1243.8 746.2,1239.1" fill="#e0331f"/>
<polygon points="740.0,1206.2 744.7,1203.1 746.2,1212.5 741.6,1215.6" fill="#e0331f"/>
<polygon points="789.2,1203.1 793.9,1201.6 796.2,1207.8 793.9,1214.1" fill="#e0331f"/>
<polygon points="749.4,1220.3 752.5,1218.8 754.1,1225.0 750.9,1225.8" fill="#e0331f"/>
<polygon points="887.2,995.9 893.4,992.8 901.2,989.7 902.8,995.9 899.7,1002.2 896.6,1005.3 890.3,1002.2" fill="#e0331f"/>
<polygon points="914.5,1004.5 916.1,1004.1 916.6,1006.1 914.8,1006.4" fill="#e0331f"/>
<polygon points="499.4,1075.0 524.4,1066.9 513.4,1073.9 502.5,1079.1" fill="#fff"/>
<polygon points="499.1,1081.7 515.3,1086.9 513.8,1087.8 498.8,1082.8" fill="#fff"/>
<polygon points="490.8,1060.3 492.8,1060.3 492.8,1066.9 490.8,1066.9" fill="#fff"/>
<polygon points="461.2,1264.4 473.8,1264.4 487.8,1273.8 475.3,1269.1 467.5,1267.5" fill="#fff"/>
<polygon points="457.3,1267.5 458.9,1266.7 470.6,1281.6 468.3,1282.3" fill="#fff"/>
<polygon points="461.2,1253.4 472.2,1251.6 472.5,1252.8 461.6,1254.7" fill="#fff"/>
<polyline points="630.3,1180.0 631.9,1186.2 638.1,1192.5 641.2,1201.9 647.5,1208.1 650.6,1214.4 649.1,1220.6 652.2,1226.9" fill="none" stroke="#fff" stroke-width="1.6" stroke-linejoin="round"/>
<polyline points="633.8,1090.3 632.2,1105.9 627.5,1121.6 630.6,1129.4 632.2,1141.9 633.8,1152.8 627.5,1166.9 630.6,1176.2 632.2,1184.1 638.4,1191.9 641.6,1196.6" fill="none" stroke="#fff" stroke-width="1.6" stroke-linejoin="round"/>
<polyline points="705.6,920.6 693.1,920.9 688.4,926.9 693.1,934.7 685.3,937.8 671.2,939.4 668.1,942.5 669.7,948.8 665.0,945.6 660.3,947.2 658.8,951.9 652.5,953.4 655.6,956.6 663.4,959.7 663.4,967.5 661.9,973.8 663.4,980.0 661.9,989.4 663.4,995.6 658.8,1001.9 663.4,1005.0 669.7,1005.0 675.9,1009.7 683.8,1009.7 685.3,1017.5 686.9,1020.6 677.5,1020.6 675.9,1028.4 674.4,1036.2 672.8,1042.5 663.4,1048.8 666.6,1059.7 665.0,1064.4 661.9,1070.6 649.4,1076.9 644.7,1080.0" fill="none" stroke="#fff" stroke-width="1.6" stroke-linejoin="round"/>
<polyline points="763.8,875.6 755.9,880.0 746.6,889.4 738.8,898.8 735.6,905.0 737.2,912.8 729.4,917.5 726.2,919.8 720.0,915.9" fill="none" stroke="#fff" stroke-width="1.6" stroke-linejoin="round"/>
<polyline points="642.5,857.5 651.2,864.4 658.8,862.5 666.2,860.0 668.8,850.0 673.8,847.5 678.8,848.8 681.2,856.2 690.0,853.8 693.8,850.0 698.8,851.9 703.8,848.1 711.2,851.2 720.0,852.5 713.8,860.0 716.2,863.8 727.5,863.1 732.5,868.1 743.8,868.1 752.5,871.9 760.0,873.8 763.8,876.9" fill="none" stroke="#fff" stroke-width="1.6" stroke-linejoin="round"/>
<polyline points="655.9,798.8 646.6,805.0 645.0,807.3 649.7,812.8 648.1,820.6 646.6,826.9 645.0,839.4 643.4,848.8 642.7,856.6" fill="none" stroke="#fff" stroke-width="1.6" stroke-linejoin="round"/>
<polyline points="559.8,678.1 560.6,684.4 566.9,689.1 573.1,700.0 582.5,695.3 584.1,703.1 588.8,708.6 595.0,706.2 601.2,706.2 605.2,718.8 609.1,723.4 613.8,725.0 615.3,731.2 623.1,732.8 626.2,739.1 623.1,743.8 615.3,748.4 613.8,756.2 615.3,765.6 613.8,770.3 616.9,776.6 617.7,781.2 629.4,784.4 645.0,792.2 654.4,796.9" fill="none" stroke="#fff" stroke-width="1.6" stroke-linejoin="round"/>
<polyline points="855.9,859.7 851.2,861.2 845.0,865.9 840.3,870.6 838.8,876.9 834.1,876.9 826.2,870.6 820.0,869.1 816.9,872.2 807.5,870.6 799.7,869.8 796.6,876.1 788.8,875.3 779.4,872.2 776.2,880.0 763.8,875.6" fill="none" stroke="#fff" stroke-width="1.6" stroke-linejoin="round"/>
<polyline points="763.8,876.9 775.0,881.2 777.5,873.8 782.5,871.2 790.0,875.0 797.5,872.5 800.0,870.0" fill="none" stroke="#fff" stroke-width="1.6" stroke-linejoin="round"/>
<polyline points="642.7,856.6 638.8,861.2 629.4,864.4 627.8,873.8 623.1,876.9 610.6,880.0 604.4,883.1 598.1,889.4 596.6,895.6 587.2,900.3 582.5,905.0 574.7,898.8 566.9,894.1 560.6,892.5 551.2,898.8 543.4,901.9 535.6,903.4 529.4,905.0" fill="none" stroke="#fff" stroke-width="1.6" stroke-linejoin="round"/>
<polyline points="586.2,905.0 591.6,911.2 596.2,919.8 600.2,925.3 591.6,930.0 586.9,934.7 585.3,939.4 583.8,948.8" fill="none" stroke="#fff" stroke-width="1.6" stroke-linejoin="round"/>
<polyline points="565.0,934.7 574.4,933.1 582.2,937.8 585.3,939.4" fill="none" stroke="#fff" stroke-width="1.6" stroke-linejoin="round"/>
<polyline points="565.0,934.7 566.6,942.5 565.0,950.3" fill="none" stroke="#fff" stroke-width="1.6" stroke-linejoin="round"/>
<polyline points="574.4,973.8 580.6,981.6 586.9,983.1 593.1,980.0 594.7,970.6 599.4,973.8 604.1,976.9 608.8,973.8 613.4,983.1 619.7,987.8 615.0,991.7" fill="none" stroke="#fff" stroke-width="1.6" stroke-linejoin="round"/>
<polyline points="586.9,983.1 582.2,989.4 582.2,995.6" fill="none" stroke="#fff" stroke-width="1.6" stroke-linejoin="round"/>
<polyline points="582.2,1008.1 586.9,1017.5 593.1,1018.3 594.7,1008.1 599.4,1014.4 605.6,1019.1 611.9,1012.8 611.9,1008.1" fill="none" stroke="#fff" stroke-width="1.6" stroke-linejoin="round"/>
<polyline points="540.0,1026.9 549.4,1028.4 555.6,1036.2 563.4,1039.4 571.2,1036.2 582.2,1034.7 590.0,1031.6 594.7,1039.4 599.4,1047.2 605.6,1051.9 613.4,1051.9 618.1,1045.6 627.5,1050.3 630.6,1040.9" fill="none" stroke="#fff" stroke-width="1.6" stroke-linejoin="round"/>
<polyline points="615.0,1012.8 624.4,1015.9 625.9,1030.0 627.5,1036.2 633.8,1042.5 640.0,1044.1 647.8,1048.8 663.4,1048.8" fill="none" stroke="#fff" stroke-width="1.6" stroke-linejoin="round"/>
<polyline points="502.5,1052.0 513.4,1048.1 525.9,1043.4 530.6,1030.9 536.9,1027.8 552.5,1029.4 558.8,1037.2 565.0,1038.8 577.5,1035.6 580.6,1032.5 590.0,1030.9 596.2,1040.3 599.4,1048.1 608.8,1053.6 616.6,1052.8 618.1,1045.0 627.5,1041.9 640.0,1045.0" fill="none" stroke="#fff" stroke-width="1.6" stroke-linejoin="round"/>
<polyline points="469.7,1145.0 475.9,1146.6 477.5,1154.4 482.2,1163.8 490.0,1165.3 494.7,1162.2 502.5,1157.5 508.8,1154.4 511.9,1145.0 521.2,1137.2 525.9,1138.8 530.6,1143.4 536.9,1149.7 544.7,1145.0 549.4,1141.9 552.5,1149.7 552.5,1157.5 555.6,1163.8 563.4,1165.3 569.7,1163.8 572.8,1160.6 577.5,1162.2 583.8,1165.3 588.4,1166.9 596.2,1163.8 602.5,1159.1 608.8,1157.5 619.7,1160.6 625.2,1166.9" fill="none" stroke="#fff" stroke-width="1.6" stroke-linejoin="round"/>
<polyline points="665.0,1068.1 670.0,1072.5 675.0,1076.2 683.8,1077.5 692.5,1078.8 697.5,1083.8 702.5,1090.0 706.2,1097.5 701.2,1105.0 707.5,1108.8 717.5,1108.1 727.5,1111.2 733.1,1114.4 740.0,1111.9 748.8,1110.0 750.0,1105.0 752.5,1096.2 760.0,1095.0 763.8,1097.5 772.5,1093.8 775.0,1087.5 776.2,1076.2" fill="none" stroke="#fff" stroke-width="1.6" stroke-linejoin="round"/>
<polyline points="731.2,1068.8 732.5,1076.2 740.0,1077.5 743.8,1080.0 741.2,1082.5 735.0,1085.0 732.5,1090.0 736.2,1095.0 735.0,1100.0 727.5,1101.2 730.0,1107.5 733.1,1114.4" fill="none" stroke="#fff" stroke-width="1.6" stroke-linejoin="round"/>
<polyline points="815.0,1112.5 811.9,1120.3 813.4,1126.6 821.2,1129.7 827.5,1134.4 833.8,1142.2 841.6,1143.8 843.1,1148.4" fill="none" stroke="#fff" stroke-width="1.6" stroke-linejoin="round"/>
<polyline points="843.1,1148.4 849.4,1150.0 852.5,1154.7 854.1,1159.4" fill="none" stroke="#fff" stroke-width="1.6" stroke-linejoin="round"/>
<polyline points="843.1,1148.4 840.0,1151.6 833.8,1154.7 830.6,1160.9 821.2,1165.6 811.9,1171.9 802.5,1178.1 797.8,1181.2 796.2,1187.5 788.4,1189.1 793.1,1198.4" fill="none" stroke="#fff" stroke-width="1.6" stroke-linejoin="round"/>
<polyline points="490.3,791.2 499.7,785.0 507.5,788.1 516.1,792.8" fill="none" stroke="#fff" stroke-width="1.6" stroke-linejoin="round"/>
<polyline points="514.5,795.9 516.9,810.0 513.8,822.5 504.4,831.9" fill="none" stroke="#fff" stroke-width="1.6" stroke-linejoin="round"/>
<polyline points="759.1,1052.2 762.2,1047.5 762.2,1039.7 757.5,1038.1 754.4,1031.9 751.2,1025.6 745.0,1019.4 740.3,1014.7 734.1,1006.9 734.1,1002.2 738.8,998.3 743.4,1000.6 751.2,1003.8 755.9,1006.9 763.8,1014.7 771.6,1016.2 779.4,1017.8 790.3,1014.7 798.1,1019.4 799.7,1025.6 791.9,1030.3 787.2,1035.0 776.2,1036.6 771.6,1041.2 773.1,1049.1 776.2,1050.6" fill="none" stroke="#fff" stroke-width="1.6" stroke-linejoin="round"/>
<polyline points="749.7,1100.6 751.2,1108.4 755.9,1114.7 765.3,1119.4 774.7,1119.4 785.6,1119.4 791.9,1114.7 801.2,1110.0 812.2,1111.6 816.9,1110.0 823.1,1106.9 824.7,1099.1 832.5,1095.9 843.4,1095.9 848.1,1099.1 851.2,1103.8 860.6,1102.2 866.9,1103.8 873.9,1108.4" fill="none" stroke="#fff" stroke-width="1.6" stroke-linejoin="round"/>
<polyline points="816.9,1110.0 813.8,1116.2 810.6,1122.5 816.9,1128.8 826.2,1131.9 834.1,1141.2 843.4,1145.9 841.9,1152.2 832.5,1156.9" fill="none" stroke="#fff" stroke-width="1.6" stroke-linejoin="round"/>
<polyline points="843.4,1149.1 851.2,1150.6 852.8,1160.0" fill="none" stroke="#fff" stroke-width="1.6" stroke-linejoin="round"/>
<polyline points="758.8,1052.5 762.5,1047.5 762.5,1040.0" fill="none" stroke="#fff" stroke-width="1.6" stroke-linejoin="round"/>
<polyline points="772.5,1040.0 772.5,1047.5 777.5,1051.2" fill="none" stroke="#fff" stroke-width="1.6" stroke-linejoin="round"/>
<polygon points="508.8,1176.2 515.0,1174.7 518.1,1177.8 527.5,1176.2 533.8,1173.1 538.4,1177.8 541.6,1185.6 543.1,1195.0 543.1,1201.2 533.8,1202.8 524.4,1205.9 515.0,1204.4 511.9,1199.7 505.6,1196.6 504.1,1190.3 505.6,1182.5" fill="none" stroke="#fff" stroke-width="1.6" stroke-linejoin="round"/>
<polygon points="531.2,791.2 532.5,786.2 538.8,782.5 545.0,777.5 548.8,773.1 556.2,775.0 560.0,782.5 561.2,791.2 567.5,800.0 565.0,810.0 558.8,812.5 553.8,818.8 545.0,813.8 535.0,816.2 530.0,810.0 528.8,800.0" fill="none" stroke="#fff" stroke-width="1.6" stroke-linejoin="round"/>
<polyline points="388.4,834.1 388.4,871.6" fill="none" stroke="#666" stroke-width="1" stroke-dasharray="3 3"/>
<polyline points="408.3,858.3 408.3,871.6" fill="none" stroke="#666" stroke-width="1" stroke-dasharray="3 3"/>
<polyline points="882.5,978.8 882.5,1013.1" fill="none" stroke="#666" stroke-width="1" stroke-dasharray="3 3"/>
<polyline points="710.9,1391.6 723.0,1370.0 739.0,1347.0 751.6,1330.6 759.0,1322.8 771.9,1317.3 886.0,1317.3" fill="none" stroke="#777" stroke-width="1.1" stroke-dasharray="3 3"/>
<text transform="translate(391.22 801.60) scale(0.9728 1)" font-size="22.09" font-weight="normal" fill="#111">Incheon</text>
<text transform="translate(517.12 808.20) scale(1.0245 1)" font-size="21.08" font-weight="normal" fill="#fff" stroke="#005bab" stroke-width="4.0" stroke-linejoin="round" paint-order="stroke">Seoul</text>
<text transform="translate(521.22 847.30) scale(1.0086 1)" font-size="21.22" font-weight="normal" fill="#fff" stroke="#005bab" stroke-width="4.0" stroke-linejoin="round" paint-order="stroke">Gyeonggi</text>
<text transform="translate(529.20 865.90) scale(0.9777 1)" font-size="21.22" font-weight="normal" fill="#fff" stroke="#005bab" stroke-width="4.0" stroke-linejoin="round" paint-order="stroke">Province</text>
<text transform="translate(666.93 764.00) scale(1.0208 1)" font-size="20.93" font-weight="normal" fill="#fff">Gangwon</text>
<text transform="translate(674.89 782.80) scale(0.9951 1)" font-size="20.93" font-weight="normal" fill="#fff">Province</text>
<text transform="translate(622.89 898.75) scale(1.0862 1)" font-size="20.35" font-weight="normal" fill="#fff">North</text>
<text transform="translate(583.71 916.70) scale(1.0557 1)" font-size="20.35" font-weight="normal" fill="#fff" stroke="#005bab" stroke-width="4.0" stroke-linejoin="round" paint-order="stroke">Chungcheong</text>
<text transform="translate(612.01 935.50) scale(1.0040 1)" font-size="21.08" font-weight="normal" fill="#fff" stroke="#005bab" stroke-width="4.0" stroke-linejoin="round" paint-order="stroke">Province</text>
<text transform="translate(433.53 950.50) scale(1.0298 1)" font-size="20.64" font-weight="normal" fill="#005bab" stroke="#fff" stroke-width="3.2" stroke-linejoin="round" paint-order="stroke">South</text>
<text transform="translate(395.17 969.20) scale(1.0340 1)" font-size="20.64" font-weight="normal" fill="#005bab" stroke="#fff" stroke-width="3.2" stroke-linejoin="round" paint-order="stroke">Chungcheong</text>
<text transform="translate(424.20 988.00) scale(1.0196 1)" font-size="20.35" font-weight="normal" fill="#005bab" stroke="#fff" stroke-width="3.2" stroke-linejoin="round" paint-order="stroke">Province</text>
<text transform="translate(547.91 964.40) scale(1.0362 1)" font-size="21.08" font-weight="normal" fill="#fff" stroke="#005bab" stroke-width="4.0" stroke-linejoin="round" paint-order="stroke">Sejong</text>
<text transform="translate(558.54 1005.80) scale(1.0446 1)" font-size="20.49" font-weight="normal" fill="#fff" stroke="#005bab" stroke-width="4.0" stroke-linejoin="round" paint-order="stroke">Daejeon</text>
<text transform="translate(751.79 933.10) scale(1.0275 1)" font-size="21.51" font-weight="normal" fill="#fff">North</text>
<text transform="translate(719.73 951.90) scale(1.0285 1)" font-size="20.64" font-weight="normal" fill="#fff">Gyeongsang</text>
<text transform="translate(741.68 969.80) scale(1.0301 1)" font-size="20.35" font-weight="normal" fill="#fff">Province</text>
<text transform="translate(539.02 1080.20) scale(1.0615 1)" font-size="20.49" font-weight="normal" fill="#fff">North</text>
<text transform="translate(538.08 1098.10) scale(1.0126 1)" font-size="20.49" font-weight="normal" fill="#fff">Jeolla</text>
<text transform="translate(528.10 1117.70) scale(1.0137 1)" font-size="20.49" font-weight="normal" fill="#fff">Province</text>
<text transform="translate(487.33 1195.80) scale(1.0284 1)" font-size="20.64" font-weight="normal" fill="#fff" stroke="#005bab" stroke-width="4.0" stroke-linejoin="round" paint-order="stroke">Gwangju</text>
<text transform="translate(481.35 1237.00) scale(1.0326 1)" font-size="20.35" font-weight="normal" fill="#fff">South Jeolla</text>
<text transform="translate(500.97 1255.80) scale(1.0280 1)" font-size="20.49" font-weight="normal" fill="#fff">Province</text>
<text transform="translate(733.06 1067.00) scale(1.0431 1)" font-size="20.35" font-weight="normal" fill="#fff" stroke="#e0331f" stroke-width="4.0" stroke-linejoin="round" paint-order="stroke">Daegu</text>
<text transform="translate(837.78 1134.20) scale(1.0377 1)" font-size="21.51" font-weight="normal" fill="#fff" stroke="#e0331f" stroke-width="6.5" stroke-linejoin="round" paint-order="stroke">Ulsan</text>
<text transform="translate(683.62 1145.30) scale(1.0218 1)" font-size="21.08" font-weight="normal" fill="#fff">South</text>
<text transform="translate(650.74 1166.40) scale(1.0009 1)" font-size="21.08" font-weight="normal" fill="#fff">Gyeongsang</text>
<text transform="translate(673.51 1182.80) scale(0.9756 1)" font-size="21.08" font-weight="normal" fill="#fff">Province</text>
<text transform="translate(835.55 1208.80) scale(0.9578 1)" font-size="19.77" font-weight="normal" fill="#111">Busan</text>
<text transform="translate(777.69 1362.20) scale(1.0190 1)" font-size="19.77" font-weight="normal" fill="#fff">Jeju</text>
<text transform="translate(760.90 1379.80) scale(0.9596 1)" font-size="20.35" font-weight="normal" fill="#fff">Province</text>
</g>
<g id="face">
<polygon points="73.1,265.4 74.3,250.8 79.0,242.6 89.5,236.7 101.3,232.0 120.0,234.4 134.1,239.1 143.4,235.6 159.8,232.0 173.9,236.7 182.1,243.8 186.8,255.5 188.0,265.4" fill="#242424"/>
<polygon points="117.7,234.4 127.0,239.1 134.1,240.2 143.4,236.7 142.3,253.1 136.4,265.4 127.0,265.4 122.3,250.8" fill="#f2f2f2"/>
<polygon points="125.9,246.1 134.1,242.6 138.8,247.3 138.8,265.4 128.2,265.4 127.0,255.5" fill="#1c1c1c"/>
<polyline points="125.9,248.4 137.6,253.1" fill="none" stroke="#cfcfcf" stroke-width="1.4"/>
<polyline points="127.0,255.5 138.8,261.3" fill="none" stroke="#cfcfcf" stroke-width="1.4"/>
<polyline points="105.9,234.4 100.1,243.8 105.9,249.6 110.6,265.4" fill="none" stroke="#999" stroke-width="0.9"/>
<polyline points="157.5,234.4 161.0,243.8 155.2,250.8 152.8,265.4" fill="none" stroke="#999" stroke-width="0.9"/>
<polyline points="80.2,246.1 83.7,255.5 87.2,265.4" fill="none" stroke="#888" stroke-width="0.8"/>
<polygon points="53.2,125.6 54.5,106.9 63.8,87.0 75.7,76.4 91.8,69.4 106.1,68.5 117.8,70.5 126.0,65.9 134.0,64.7 150.5,71.7 162.2,83.5 171.6,104.5 176.3,121.0 174.0,136.2 168.0,125.6 162.2,112.8 156.4,104.5 148.2,99.9 134.0,101.0 115.2,109.2 97.7,118.6 84.8,130.3 82.3,150.5 85.0,169.0 83.6,182.2 73.1,161.1 63.8,155.8 55.9,145.2" fill="#8e8e8e"/>
<polyline points="59.8,112.1 74.4,97.6 95.5,88.3 119.3,84.4 132.6,87.0" fill="none" stroke="#cdcdcd" stroke-width="3.0" stroke-linecap="round"/>
<polyline points="57.2,124.0 71.7,112.1 92.9,102.9 114.0,98.9 127.3,97.6" fill="none" stroke="#c2c2c2" stroke-width="2.4" stroke-linecap="round"/>
<polyline points="79.7,80.4 98.2,75.1 114.0,75.1" fill="none" stroke="#bdbdbd" stroke-width="2.4" stroke-linecap="round"/>
<polyline points="132.6,72.5 145.8,77.8 156.4,88.3 163.0,100.2" fill="none" stroke="#b8b8b8" stroke-width="2.6" stroke-linecap="round"/>
<polyline points="58.5,137.3 69.1,129.3 83.6,121.4" fill="none" stroke="#c8c8c8" stroke-width="2.0" stroke-linecap="round"/>
<polyline points="67.8,92.3 85.0,81.7 103.5,76.4 119.3,79.1" fill="none" stroke="#5a5a5a" stroke-width="1.4" stroke-linecap="round"/>
<polyline points="66.4,106.9 86.3,95.0 108.8,89.7 124.6,92.3 135.2,102.9" fill="none" stroke="#555" stroke-width="1.3" stroke-linecap="round"/>
<polyline points="123.3,69.8 126.0,81.7 122.0,93.6" fill="none" stroke="#666" stroke-width="1.4" stroke-linecap="round"/>
<polyline points="156.4,105.5 165.6,116.1 170.9,132.0" fill="none" stroke="#666" stroke-width="1.3" stroke-linecap="round"/>
<polyline points="59.8,147.9 69.1,139.9 82.3,134.6" fill="none" stroke="#666" stroke-width="1.2" stroke-linecap="round"/>
<polyline points="140.5,67.2 152.4,75.1 163.0,85.7" fill="none" stroke="#6a6a6a" stroke-width="1.1" stroke-linecap="round"/>
<polyline points="73.1,155.8 79.7,142.6 85.0,132.0" fill="none" stroke="#777" stroke-width="1.4" stroke-linecap="round"/>
<polygon points="57.9,160.5 64.9,158.2 75.5,162.9 80.2,177.0 83.7,188.7 82.5,198.0 74.3,198.0 68.4,188.7 61.4,175.8" fill="#efefef" stroke="#444" stroke-width="1"/>
<polyline points="63.8,165.2 72.0,172.3 74.3,184.0 79.0,192.2" fill="none" stroke="#888" stroke-width="0.9"/>
<polygon points="84.8,130.3 97.7,118.6 115.2,109.2 134.0,101.0 148.2,99.9 156.4,104.5 162.2,112.8 168.0,125.6 172.2,134.6 176.2,145.2 178.8,162.4 180.8,182.2 176.9,202.1 166.9,220.6 153.7,231.2 132.6,234.1 114.0,229.8 99.5,219.3 90.2,202.1 86.9,182.2 85.6,162.4" fill="#f1f1f1" stroke="#333" stroke-width="1.1"/>
<polygon points="83.7,171.1 89.5,167.6 94.2,180.5 100.1,199.2 110.6,215.6 124.7,227.3 117.7,230.9 103.6,225.0 94.2,213.3 88.4,196.9" fill="#c9c9c9" opacity="0.75"/>
<polygon points="162.2,179.3 171.6,173.4 176.3,191.0 172.7,208.6 165.7,220.3 163.4,206.3 166.9,192.2" fill="#d6d6d6" opacity="0.7"/>
<polygon points="73.1,150.0 83.7,150.0 86.0,164.1 83.7,173.4 80.2,165.2" fill="#8a8a8a"/>
<polyline points="99.5,134.6 114.0,129.3 132.6,124.0 152.4,122.7" fill="none" stroke="#b0b0b0" stroke-width="1.2" stroke-linecap="round"/>
<polyline points="114.0,118.8 132.6,113.5 151.1,112.1" fill="none" stroke="#bdbdbd" stroke-width="1.0" stroke-linecap="round"/>
<polyline points="153.7,132.0 156.4,142.6 152.4,150.5" fill="none" stroke="#999" stroke-width="1.0" stroke-linecap="round"/>
<path d="M137.6,177.0 C131.7,185.2 134.1,192.2 142.3,191.0 C148.1,193.4 155.2,189.8 156.3,182.8" fill="none" stroke="#3a3a3a" stroke-width="1.2"/>
<path d="M134.1,212.1 Q148.1,201.6 164.5,205.1 Q150.5,220.3 134.1,212.1 Z" fill="#d4d4d4" stroke="#444" stroke-width="1"/>
<polyline points="135.2,211.5 148.1,208.6 163.4,205.7" fill="none" stroke="#333" stroke-width="1.3"/>
<polyline points="136.4,225.0 148.1,222.7" fill="none" stroke="#888" stroke-width="1"/>
<polyline points="98.2,154.5 111.4,148.5 124.6,146.5 132.6,147.2" fill="none" stroke="#3c3c3c" stroke-width="2.0" stroke-linecap="round"/>
<polyline points="144.5,136.0 155.0,131.3 166.9,130.0" fill="none" stroke="#3c3c3c" stroke-width="2.0" stroke-linecap="round"/>
<ellipse cx="119.5" cy="165.5" rx="4.2" ry="1.8" transform="rotate(-10 119.5 165.5)" fill="#111"/>
<ellipse cx="156" cy="151.5" rx="4" ry="1.8" transform="rotate(-12 156 151.5)" fill="#111"/>
<polyline points="111.4,169.0 119.3,165.0 129.9,165.7" fill="none" stroke="#444" stroke-width="1" />
<polyline points="148.4,154.5 156.4,150.5 164.3,151.2" fill="none" stroke="#444" stroke-width="1" />
<ellipse cx="118.8" cy="172" rx="15.4" ry="11.2" transform="rotate(-12 118.8 172)" fill="none" stroke="#2a2a2a" stroke-width="1.4"/>
<ellipse cx="159.7" cy="155.8" rx="14" ry="12.8" transform="rotate(-15 159.7 155.8)" fill="none" stroke="#2a2a2a" stroke-width="1.4"/>
<polyline points="134,167 140,161 146,158" fill="none" stroke="#2a2a2a" stroke-width="1.4"/>
<polyline points="84,163 95,166 104,169" fill="none" stroke="#2a2a2a" stroke-width="1.4"/>
<polyline points="173,147 176,144" fill="none" stroke="#2a2a2a" stroke-width="1.3"/>
</g>
</svg>
</body></html>
